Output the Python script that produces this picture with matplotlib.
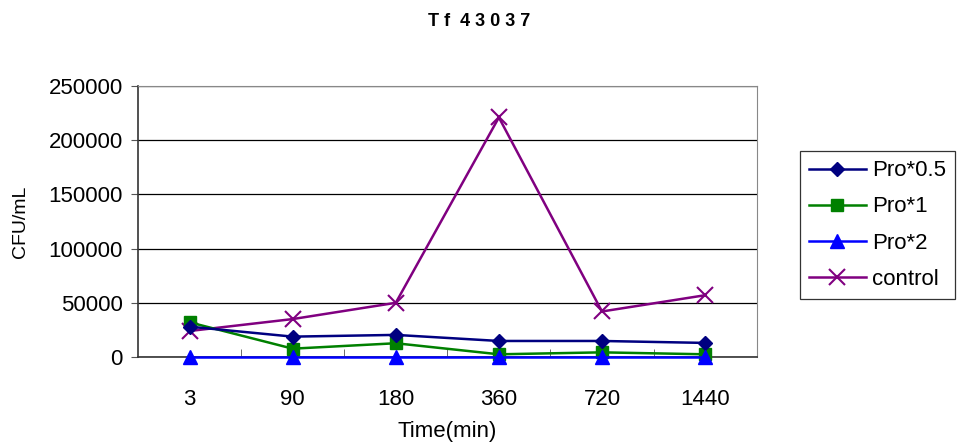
import matplotlib
matplotlib.use("Agg")
import matplotlib.pyplot as plt
import numpy as np

times = ["3", "90", "180", "360", "720", "1440"]
pro_05 = [28000, 18800, 20400, 14800, 14800, 13000]
pro_1 = [32000, 7700, 12700, 2500, 4300, 2500]
pro_2 = [0, 0, 0, 0, 0, 0]
control = [24000, 35000, 50000, 221000, 42000, 57000]

plt.rcParams['font.family'] = ['Liberation Sans', 'DejaVu Sans']

fig = plt.figure(figsize=(9.59, 4.48), dpi=100)
ax = fig.add_axes([0.1439, 0.2031, 0.6451, 0.6049])

x = np.arange(len(times))
ax.plot(x, pro_05, color='#000080', marker='D', markersize=7.5, lw=1.8, label='Pro*0.5', zorder=4, clip_on=False)
ax.plot(x, pro_1, color='#008000', marker='s', markersize=8.5, lw=1.8, label='Pro*1', zorder=3, clip_on=False)
ax.plot(x, pro_2, color='#0000FF', marker='^', markersize=10, lw=1.8, label='Pro*2', zorder=5, clip_on=False)
ax.plot(x, control, color='#800080', marker='x', markersize=12, mew=1.5, lw=1.8, label='control', zorder=2, clip_on=False)

ax.set_xlim(-0.5, len(times) - 0.5)
ax.set_ylim(0, 250000)
ax.set_yticks(np.arange(0, 250001, 50000))
ax.set_yticklabels([str(v) for v in range(0, 250001, 50000)], fontsize=16)
ax.yaxis.grid(True, color='black', lw=0.9)
ax.set_axisbelow(True)

ax.set_xticks(x)
ax.set_xticklabels(times, fontsize=16)
ax.tick_params(axis='x', length=0, pad=23)
ax.set_xticks(np.arange(0.5, len(times) - 0.5, 1), minor=True)
ax.tick_params(axis='x', which='minor', direction='in', length=6, color='#555555')
ax.tick_params(axis='y', direction='out', length=5, color='#555555', pad=6)

for side in ['top', 'right']:
    ax.spines[side].set_color('#888888')
for side in ['left', 'bottom']:
    ax.spines[side].set_color('#333333')
    ax.spines[side].set_linewidth(1.2)

ax.set_xlabel('Time(min)', fontsize=16, labelpad=8)
ax.set_ylabel('CFU/mL', fontsize=14, labelpad=14)

fig.suptitle('T f  4 3 0 3 7', x=0.5, y=0.97, fontsize=13, fontweight='bold')

leg = ax.legend(loc='center left', bbox_to_anchor=(1.0695, 0.487), fontsize=16,
                frameon=True, fancybox=False, edgecolor='black', handlelength=2.6,
                labelspacing=0.68, borderpad=0.4, handletextpad=0.25, borderaxespad=0)
leg.get_frame().set_linewidth(0.9)

fig.savefig('out.png', dpi=100)
